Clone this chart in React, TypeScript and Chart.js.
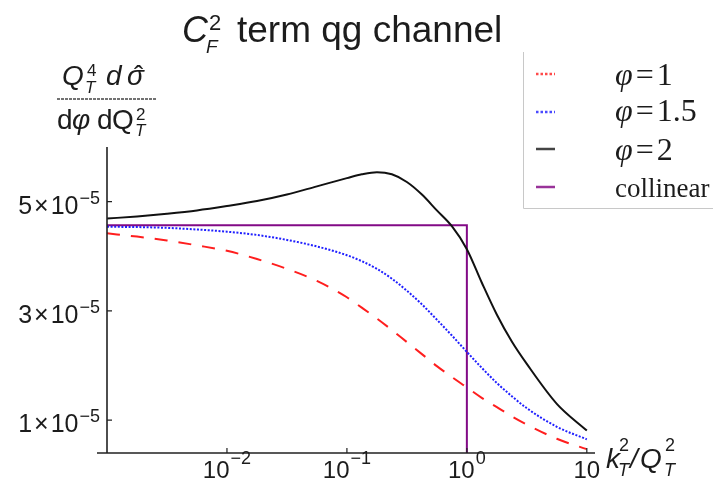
import React, { useEffect, useRef } from "react";
import { Chart, registerables } from "chart.js";

Chart.register(...registerables);

// ---- data (y values in units of 1e-5) ----
const UNIT = 1e-5;
const X_VALUES = [0.001, 0.00178, 0.00316, 0.00562, 0.01, 0.0178, 0.0316, 0.0562, 0.1, 0.133, 0.178, 0.237, 0.316, 0.422, 0.562, 0.75, 1, 1.33, 1.78, 2.37, 3.16, 5.62, 10];
const PHI_1 = [4.42, 4.36, 4.29, 4.2, 4.1, 3.95, 3.77, 3.55, 3.25, 3.06, 2.86, 2.65, 2.43, 2.21, 1.99, 1.79, 1.6, 1.41, 1.24, 1.07, 0.92, 0.66, 0.47];
const PHI_15 = [4.54, 4.535, 4.52, 4.49, 4.45, 4.39, 4.3, 4.18, 4.02, 3.91, 3.77, 3.59, 3.37, 3.12, 2.84, 2.55, 2.25, 1.96, 1.68, 1.44, 1.22, 0.88, 0.65];
const PHI_2 = [4.69, 4.73, 4.78, 4.84, 4.92, 5.01, 5.13, 5.28, 5.43, 5.5, 5.54, 5.5, 5.36, 5.13, 4.84, 4.55, 4.13, 3.52, 2.93, 2.44, 2.03, 1.3, 0.81];
const COLLINEAR_X = [0.001, 1, 1];
const COLLINEAR_Y = [4.57, 4.57, 0.4];
const SERIES_LABELS = ["φ=1", "φ=1.5", "φ=2", "collinear"];

const X_MIN = 0.001;
const X_MAX = 11.7;
const Y_MIN = 0.4;
const Y_MAX = 6.0;
const X_TICKS = [0.01, 0.1, 1, 10];
const X_TICK_BASE = ["10", "10", "10", "10"];
const X_TICK_EXP = ["−2", "−1", "0", ""];
const Y_TICKS = [1, 3, 5];
const Y_TICK_MANTISSA = ["1", "3", "5"];
const Y_TICK_EXP = ["−5", "−5", "−5"];

const SANS = '"Liberation Sans", Arial, Helvetica, sans-serif';
const SERIF = '"Liberation Serif", "Times New Roman", serif';
const INK = "#1c1c1c";

function txt(ctx: CanvasRenderingContext2D, s: string, x: number, y: number, font: string, color = INK) {
  ctx.font = font;
  ctx.fillStyle = color;
  ctx.fillText(s, x, y);
  return x + ctx.measureText(s).width;
}
function wid(ctx: CanvasRenderingContext2D, s: string, font: string) {
  ctx.font = font;
  return ctx.measureText(s).width;
}

const decorPlugin = {
  id: "decor",
  afterDraw(chart: any) {
    const { ctx, chartArea: ca, scales } = chart;
    const xs = scales.x;
    const ys = scales.y;
    ctx.save();
    ctx.setLineDash([]);
    ctx.textAlign = "left";
    ctx.textBaseline = "alphabetic";

    // axes lines
    ctx.strokeStyle = "#222";
    ctx.lineWidth = 1.6;
    ctx.beginPath();
    ctx.moveTo(ca.left, ca.top);
    ctx.lineTo(ca.left, ca.bottom);
    ctx.moveTo(ca.left - 10, ca.bottom);
    ctx.lineTo(ca.right, ca.bottom);
    ctx.stroke();
    // inward ticks
    ctx.lineWidth = 1.2;
    ctx.beginPath();
    ys.ticks.forEach((t: any) => {
      const py = ys.getPixelForValue(t.value);
      ctx.moveTo(ca.left, py);
      ctx.lineTo(ca.left + 5, py);
    });
    xs.ticks.forEach((t: any) => {
      const px = xs.getPixelForValue(t.value);
      ctx.moveTo(px, ca.bottom);
      ctx.lineTo(px, ca.bottom - 5);
    });
    ctx.stroke();

    // x tick labels 10^n
    const xb = `24px ${SANS}`;
    const xe = `18px ${SANS}`;
    xs.ticks.forEach((t: any, i: number) => {
      const px = xs.getPixelForValue(t.value);
      const w = wid(ctx, X_TICK_BASE[i], xb) + (X_TICK_EXP[i] ? wid(ctx, X_TICK_EXP[i], xe) + 1 : 0);
      const x0 = px - w / 2;
      const x1 = txt(ctx, X_TICK_BASE[i], x0, ca.bottom + 25, xb);
      if (X_TICK_EXP[i]) txt(ctx, X_TICK_EXP[i], x1 + 1, ca.bottom + 11, xe);
    });
    // y tick labels m×10^-5
    const yb = `25px ${SANS}`;
    const ye = `18px ${SANS}`;
    ys.ticks.forEach((t: any, i: number) => {
      const py = ys.getPixelForValue(t.value);
      const parts = [Y_TICK_MANTISSA[i], "×", "10"];
      const wBase = wid(ctx, parts[0], yb) + 2 + wid(ctx, parts[1], yb) + 2 + wid(ctx, parts[2], yb);
      const wExp = wid(ctx, Y_TICK_EXP[i], ye);
      let x = 100 - wExp - wBase - 1;
      const base = py + 12;
      x = txt(ctx, parts[0], x, base, yb) + 2;
      x = txt(ctx, parts[1], x, base, yb) + 2;
      x = txt(ctx, parts[2], x, base, yb) + 1;
      txt(ctx, Y_TICK_EXP[i], x, base - 10, ye);
    });

    // title: C_F^2 term qg channel
    let x = txt(ctx, "C", 182, 42, `italic 36px ${SANS}`);
    txt(ctx, "2", x + 1, 30, `22px ${SANS}`);
    txt(ctx, "F", x - 2, 53, `italic 19px ${SANS}`);
    txt(ctx, "term qg channel", 237, 42, `37px ${SANS}`);

    // y axis label (fraction)
    txt(ctx, "Q", 62, 85, `italic 28px ${SANS}`);
    txt(ctx, "4", 87, 76, `17px ${SANS}`);
    txt(ctx, "T", 85, 93, `italic 17px ${SANS}`);
    txt(ctx, "d", 106, 85, `italic 28px ${SANS}`);
    txt(ctx, "σ", 127, 85, `italic 28px ${SANS}`);
    txt(ctx, "ˆ", 134, 85, `28px ${SANS}`);
    ctx.strokeStyle = "#444";
    ctx.lineWidth = 1.5;
    ctx.setLineDash([3, 1]);
    ctx.beginPath();
    ctx.moveTo(57, 99);
    ctx.lineTo(157, 99);
    ctx.stroke();
    ctx.setLineDash([]);
    txt(ctx, "d", 57, 129, `28px ${SANS}`);
    txt(ctx, "φ", 72, 129, `italic 28px ${SANS}`);
    txt(ctx, "d", 97, 129, `28px ${SANS}`);
    txt(ctx, "Q", 112, 129, `28px ${SANS}`);
    txt(ctx, "2", 136, 120, `17px ${SANS}`);
    txt(ctx, "T", 135, 136, `italic 17px ${SANS}`);

    // x axis label k_T^2/Q_T^2
    txt(ctx, "k", 606, 468, `italic 28px ${SANS}`);
    txt(ctx, "2", 619, 451, `18px ${SANS}`);
    txt(ctx, "T", 618, 476, `italic 18px ${SANS}`);
    txt(ctx, "/", 630, 468, `italic 28px ${SANS}`);
    txt(ctx, "Q", 640, 468, `italic 28px ${SANS}`);
    txt(ctx, "2", 665, 451, `18px ${SANS}`);
    txt(ctx, "T", 664, 476, `italic 18px ${SANS}`);

    // legend
    ctx.strokeStyle = "#c8c8c8";
    ctx.lineWidth = 1;
    ctx.beginPath();
    ctx.moveTo(523.5, 52);
    ctx.lineTo(523.5, 208.5);
    ctx.lineTo(713, 208.5);
    ctx.stroke();
    const sampleY = [74, 112, 149, 187];
    const textY = [85, 121, 160, 197];
    const sampleColors = ["#ff4a4a", "#4a4aff", "#444444", "#993399"];
    chart.data.datasets.forEach((ds: any, i: number) => {
      ctx.strokeStyle = sampleColors[i];
      ctx.lineWidth = 2.5;
      ctx.setLineDash(i < 2 ? [2.5, 2] : []);
      ctx.beginPath();
      ctx.moveTo(536, sampleY[i]);
      ctx.lineTo(555, sampleY[i]);
      ctx.stroke();
      ctx.setLineDash([]);
      const label: string = ds.label;
      if (label.startsWith("φ")) {
        let lx = txt(ctx, "φ", 615, textY[i], `italic 32px ${SERIF}`);
        lx = txt(ctx, "=", lx + 3, textY[i], `32px ${SERIF}`);
        txt(ctx, label.slice(2), lx + 3, textY[i], `32px ${SERIF}`);
      } else {
        txt(ctx, label, 615, textY[i], `27px ${SERIF}`);
      }
    });
    ctx.restore();
  },
};

export default function App() {
  const ref = useRef<HTMLCanvasElement | null>(null);
  useEffect(() => {
    if (!ref.current) return;
    const pts = (ys: number[]) => X_VALUES.map((x, i) => ({ x, y: ys[i] * UNIT }));
    const chart = new Chart(ref.current, {
      type: "line",
      data: {
        datasets: [
          {
            label: SERIES_LABELS[0],
            data: pts(PHI_1),
            borderColor: "#ff1e1e",
            borderWidth: 2,
            borderDash: [13, 11],
            pointRadius: 0,
            cubicInterpolationMode: "monotone",
            fill: false,
          },
          {
            label: SERIES_LABELS[1],
            data: pts(PHI_15),
            borderColor: "#2020ff",
            borderWidth: 2,
            borderDash: [2, 1.6],
            pointRadius: 0,
            cubicInterpolationMode: "monotone",
            fill: false,
          },
          {
            label: SERIES_LABELS[2],
            data: pts(PHI_2),
            borderColor: "#111111",
            borderWidth: 2,
            pointRadius: 0,
            cubicInterpolationMode: "monotone",
            fill: false,
          },
          {
            label: SERIES_LABELS[3],
            data: COLLINEAR_X.map((x, i) => ({ x, y: COLLINEAR_Y[i] * UNIT })),
            borderColor: "#820a86",
            borderWidth: 2,
            pointRadius: 0,
            tension: 0,
            fill: false,
          },
        ],
      },
      options: {
        responsive: false,
        animation: false,
        devicePixelRatio: 1,
        layout: { padding: { left: 0, right: 118, top: 147, bottom: 0 } },
        plugins: { legend: { display: false }, title: { display: false }, tooltip: { enabled: false } },
        scales: {
          x: {
            type: "logarithmic",
            min: X_MIN,
            max: X_MAX,
            grid: { display: false, drawTicks: false },
            border: { display: false },
            afterBuildTicks: (s: any) => {
              s.ticks = X_TICKS.map((v) => ({ value: v }));
            },
            afterFit: (s: any) => {
              s.height = 34;
            },
            ticks: {
              display: false,
              autoSkip: false,
              callback: (_v: any, i: number) => X_TICK_BASE[i] + "^" + X_TICK_EXP[i],
            },
          },
          y: {
            type: "linear",
            min: Y_MIN * UNIT,
            max: Y_MAX * UNIT,
            grid: { display: false, drawTicks: false },
            border: { display: false },
            afterBuildTicks: (s: any) => {
              s.ticks = Y_TICKS.map((v) => ({ value: v * UNIT }));
            },
            afterFit: (s: any) => {
              s.width = 107;
            },
            ticks: {
              display: false,
              autoSkip: false,
              callback: (_v: any, i: number) => Y_TICK_MANTISSA[i] + "×10^" + Y_TICK_EXP[i],
            },
          },
        },
      },
      plugins: [decorPlugin],
    } as any);
    return () => chart.destroy();
  }, []);
  return (
    <div style={{ position: "absolute", left: 0, top: 0, width: 713, height: 487, background: "#fff" }}>
      <canvas ref={ref} width={713} height={487} style={{ display: "block" }} />
    </div>
  );
}
